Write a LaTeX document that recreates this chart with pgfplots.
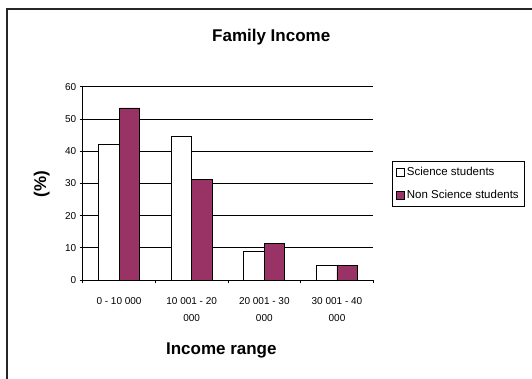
\documentclass[border=0pt]{standalone}
\usepackage{fontspec}
\setmainfont{Liberation Sans}
\usepackage{pgfplots}
\pgfplotsset{compat=1.18}
\definecolor{plum}{HTML}{993366}
\pgfplotsset{sqlegend/.style={legend image code/.code={\draw[##1,/tikz/.cd,line width=0.8bp] (0bp,-4bp) rectangle (8bp,4bp);}}}
\begin{document}
\begin{tikzpicture}
\useasboundingbox (0bp,0bp) rectangle (532bp,379bp);
\fill[white] (0bp,0bp) rectangle (532bp,379bp);
\draw[black!85, line width=1.6bp] (6.7bp,-10bp) -- (6.7bp,370bp) -- (545bp,370bp);
\begin{axis}[
  at={(82.7bp,99bp)}, anchor=south west,
  scale only axis, width=290.6bp, height=193.3bp,
  xmin=-0.5, xmax=3.5, ymin=0, ymax=60,
  ybar=0pt, bar width=20.5bp,
  axis x line*=bottom, axis y line*=left,
  axis line style={-, black, line width=0.8bp},
  xtick={-0.5,0.5,1.5,2.5,3.5},
  x tick label as interval,
  xticklabels={{0 - 10 000}, {10 001 - 20\\[5bp]000}, {20 001 - 30\\[5bp]000}, {30 001 - 40\\[5bp]000}},
  xticklabel style={align=center, yshift=-11bp, font=\fontsize{10bp}{12bp}\selectfont},
  ytick={0,10,...,60},
  yticklabel style={font=\fontsize{10bp}{12bp}\selectfont},
  /pgf/number format/assume math mode=true,
  ymajorgrids, grid style={black, line width=0.7bp},
  tick align=outside, major tick length=3bp, tick style={black, line width=0.8bp},
  title={Family Income},
  title style={at={(0.6487,1.205)}, anchor=base, font=\bfseries\fontsize{17bp}{20bp}\selectfont},
  xlabel={Income range},
  xlabel style={at={(0.477,-0.388)}, anchor=base, font=\bfseries\fontsize{17bp}{20bp}\selectfont},
  ylabel={(\%)},
  ylabel style={at={(-0.141,0.495)}, anchor=center, font=\bfseries\fontsize{17bp}{20bp}\selectfont},
  legend style={at={(1.0633,0.6156)}, anchor=north west, draw=black, line width=0.8bp,
    font=\fontsize{11.5bp}{13.5bp}\selectfont, inner xsep=4bp, inner ysep=4bp, row sep=9bp,
    cells={anchor=west}},
]
\addplot[fill=white, draw=black, line width=0.8bp, sqlegend] coordinates {(0,42.2) (1,44.7) (2,8.9) (3,4.6)};
\addlegendentry{Science students}
\addplot[fill=plum, draw=black, line width=0.8bp, sqlegend] coordinates {(0,53.4) (1,31.3) (2,11.3) (3,4.6)};
\addlegendentry{Non Science students}
\end{axis}
\end{tikzpicture}
\end{document}
